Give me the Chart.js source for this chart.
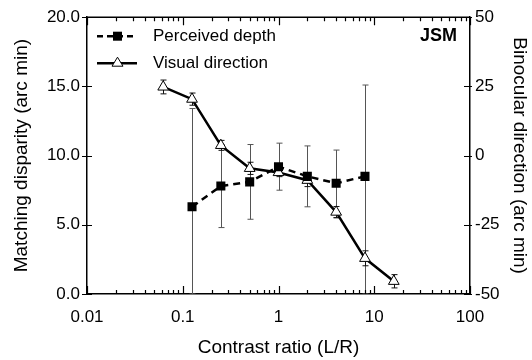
<!DOCTYPE html>
<html>
<head>
<meta charset="utf-8">
<script src="https://cdn.jsdelivr.net/npm/chart.js@4.4.0/dist/chart.umd.min.js"></script>
<style>
  html, body { margin: 0; padding: 0; background: #fff; }
  #wrap { width: 532px; height: 360px; }
</style>
</head>
<body>
<div id="wrap"><canvas id="chart" width="532" height="360"></canvas></div>
<script>
// contrast ratios (L/R)
const directionRatios = [0.0625, 0.125, 0.25, 0.5, 1, 2, 4, 8, 16];
const depthRatios = [0.125, 0.25, 0.5, 1, 2, 4, 8];

// perceived depth, matching disparity (arc min), left axis
const depthValues = [6.3, 7.8, 8.1, 9.2, 8.5, 8.0, 8.5];
const depthHigh = [13.4, 10.8, 10.8, 10.9, 10.7, 10.4, 15.1];
const depthLow = [0, 4.8, 5.4, 7.5, 6.3, 5.5, 0];

// visual direction, binocular direction (arc min), right axis
const directionValues = [24.8, 20.4, 3.7, -4.6, -6.1, -8.9, -20.4, -37.1, -45.4];
const directionErr = [2.5, 2.2, 1.8, 2.2, 1.5, 2.3, 2.0, 2.7, 2.4];

const xTicks = [0.01, 0.1, 1, 10, 100];
const leftTicks = [0, 5, 10, 15, 20];
const rightTicks = [-50, -25, 0, 25, 50];

const font = "'Liberation Sans', Arial, Helvetica, sans-serif";

// error bars, drawn under the markers
const errorBars = {
  id: "errorBars",
  beforeDatasetsDraw(chart) {
    const { ctx, chartArea, scales } = chart;
    const x = scales.x, yl = scales.y, yr = scales.y2;
    ctx.save();
    ctx.beginPath();
    ctx.rect(chartArea.left, chartArea.top, chartArea.width, chartArea.height);
    ctx.clip();
    const bar = (px, top, bot, color) => {
      ctx.strokeStyle = color;
      ctx.lineWidth = 1;
      ctx.beginPath();
      ctx.moveTo(px, top);
      ctx.lineTo(px, bot);
      ctx.moveTo(px - 3, top);
      ctx.lineTo(px + 3, top);
      ctx.moveTo(px - 3, bot);
      ctx.lineTo(px + 3, bot);
      ctx.stroke();
    };
    depthRatios.forEach((r, i) => {
      const px = Math.round(x.getPixelForValue(r)) + 0.5;
      bar(px, yl.getPixelForValue(depthHigh[i]), yl.getPixelForValue(depthLow[i]), "#555");
    });
    directionRatios.forEach((r, i) => {
      const px = Math.round(x.getPixelForValue(r)) + 0.5;
      const v = directionValues[i], e = directionErr[i];
      bar(px, yr.getPixelForValue(v + e), yr.getPixelForValue(v - e), "#111");
    });
    ctx.restore();
  },
};

// tick marks, top border, legend and label
const decorations = {
  id: "decorations",
  afterDraw(chart) {
    const { ctx, chartArea, scales } = chart;
    const { left, right, top, bottom } = chartArea;
    const x = scales.x, yl = scales.y, yr = scales.y2;
    ctx.save();
    ctx.strokeStyle = "#000";
    ctx.lineWidth = 1.5;

    // top border
    ctx.beginPath();
    ctx.moveTo(left, top);
    ctx.lineTo(right, top);
    ctx.stroke();

    // x ticks, inward on bottom and top
    ctx.lineWidth = 1.2;
    ctx.beginPath();
    for (let d = 0.01; d < 100; d *= 10) {
      for (let m = 1; m <= 10; m++) {
        const v = d * m;
        const px = Math.round(x.getPixelForValue(v)) + 0.5;
        const len = m === 1 || m === 10 ? 8 : 4;
        ctx.moveTo(px, bottom);
        ctx.lineTo(px, bottom - len);
        ctx.moveTo(px, top);
        ctx.lineTo(px, top + len);
      }
    }
    // y ticks crossing the side axes
    leftTicks.forEach((v) => {
      const py = Math.round(yl.getPixelForValue(v)) + 0.5;
      ctx.moveTo(left - 5, py);
      ctx.lineTo(left + 5, py);
    });
    rightTicks.forEach((v) => {
      const py = Math.round(yr.getPixelForValue(v)) + 0.5;
      ctx.moveTo(right - 6, py);
      ctx.lineTo(right + 2, py);
    });
    ctx.stroke();

    // legend
    const lx = left + 10;
    const row1 = top + 19;
    const row2 = top + 46;
    ctx.lineWidth = 2.5;
    ctx.setLineDash([6, 4]);
    ctx.beginPath();
    ctx.moveTo(lx, row1);
    ctx.lineTo(lx + 40, row1);
    ctx.stroke();
    ctx.setLineDash([]);
    ctx.fillStyle = "#000";
    ctx.fillRect(lx + 16, row1 - 4.5, 9, 9);

    ctx.beginPath();
    ctx.moveTo(lx, row2);
    ctx.lineTo(lx + 40, row2);
    ctx.stroke();
    ctx.lineWidth = 1;
    ctx.fillStyle = "#fff";
    ctx.beginPath();
    ctx.moveTo(lx + 20.5, row2 - 6);
    ctx.lineTo(lx + 26, row2 + 3);
    ctx.lineTo(lx + 15, row2 + 3);
    ctx.closePath();
    ctx.fill();
    ctx.stroke();

    ctx.fillStyle = "#000";
    ctx.font = "17px " + font;
    ctx.textBaseline = "middle";
    ctx.textAlign = "left";
    ctx.fillText("Perceived depth", lx + 56, row1);
    ctx.fillText("Visual direction", lx + 56, row2);

    ctx.font = "bold 18px " + font;
    ctx.textAlign = "right";
    ctx.fillText("JSM", right - 13, row1);
    ctx.restore();
  },
};

const ctx = document.getElementById("chart").getContext("2d");

const chart = new Chart(ctx, {
  type: "line",
  data: {
    datasets: [
      {
        label: "Perceived depth",
        data: depthRatios.map((r, i) => ({ x: r, y: depthValues[i] })),
        yAxisID: "y",
        borderColor: "#000",
        borderWidth: 2.5,
        borderDash: [7, 5],
        pointStyle: "rect",
        pointRadius: 6.4,
        pointBackgroundColor: "#000",
        pointBorderColor: "#000",
        pointBorderWidth: 0,
        fill: false,
        tension: 0,
      },
      {
        label: "Visual direction",
        data: directionRatios.map((r, i) => ({ x: r, y: directionValues[i] })),
        yAxisID: "y2",
        borderColor: "#000",
        borderWidth: 2.5,
        pointStyle: "triangle",
        pointRadius: 6.2,
        pointBackgroundColor: "#fff",
        pointBorderColor: "#000",
        pointBorderWidth: 1,
        fill: false,
        tension: 0,
      },
    ],
  },
  options: {
    responsive: false,
    animation: false,
    events: [],
    layout: { padding: { top: 16, left: 0, right: 0, bottom: 0 } },
    scales: {
      x: {
        type: "logarithmic",
        min: 0.01,
        max: 100,
        afterBuildTicks: (scale) => {
          scale.ticks = xTicks.map((v) => ({ value: v }));
        },
        afterFit: (scale) => {
          scale.height = 66;
        },
        grid: { display: false, drawTicks: false },
        border: { display: true, color: "#000", width: 1.5 },
        ticks: {
          color: "#000",
          font: { family: font, size: 17 },
          padding: 13,
          maxRotation: 0,
          autoSkip: false,
          callback: (v) => String(v),
        },
        title: {
          display: true,
          text: "Contrast ratio (L/R)",
          color: "#000",
          font: { family: font, size: 19 },
          padding: { top: 0, bottom: 1 },
        },
      },
      y: {
        position: "left",
        min: 0,
        max: 20,
        afterBuildTicks: (scale) => {
          scale.ticks = leftTicks.map((v) => ({ value: v }));
        },
        afterFit: (scale) => {
          scale.width = 87;
        },
        grid: { display: false, drawTicks: false },
        border: { display: true, color: "#000", width: 1.5 },
        ticks: {
          color: "#000",
          font: { family: font, size: 17 },
          padding: 7,
          callback: (v) => v.toFixed(1),
        },
        title: {
          display: true,
          text: "Matching disparity (arc min)",
          color: "#000",
          font: { family: font, size: 19 },
          padding: { top: 10, bottom: 0 },
        },
      },
      y2: {
        position: "right",
        min: -50,
        max: 50,
        afterBuildTicks: (scale) => {
          scale.ticks = rightTicks.map((v) => ({ value: v }));
        },
        afterFit: (scale) => {
          scale.width = 62;
        },
        grid: { display: false, drawTicks: false },
        border: { display: true, color: "#000", width: 1.5 },
        ticks: {
          color: "#000",
          font: { family: font, size: 17 },
          padding: 5,
          callback: (v) => String(v),
        },
        title: {
          display: true,
          text: "Binocular direction (arc min)",
          color: "#000",
          font: { family: font, size: 19 },
          padding: { top: 1, bottom: 0 },
        },
      },
    },
    plugins: {
      legend: { display: false },
      tooltip: { enabled: false },
    },
  },
  plugins: [errorBars, decorations],
});
</script>
</body>
</html>
